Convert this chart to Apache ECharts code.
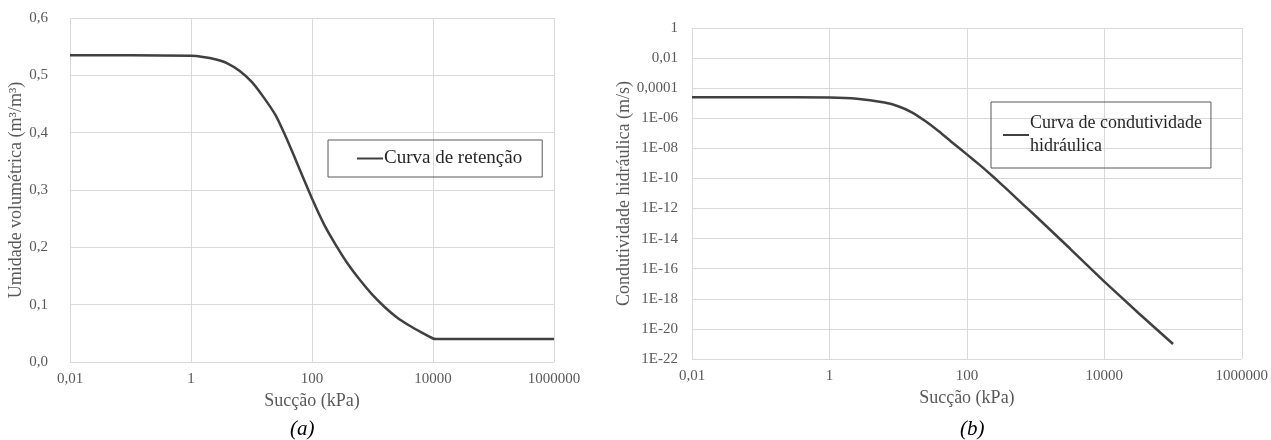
<!DOCTYPE html>
<html>
<head>
<meta charset="utf-8">
<title>Curvas de retenção e condutividade</title>
<script src="https://cdn.jsdelivr.net/npm/echarts@6/dist/echarts.min.js"></script>
<style>
  html, body { margin: 0; padding: 0; background: #fff; }
  #chart { width: 1271px; height: 440px; }
</style>
</head>
<body>
<div id="chart"></div>
<script>
// (a) curva de retenção: sucção (kPa) x umidade volumétrica (m³/m³)
const suctionA = [0.01, 0.1, 1, 1.58, 2.51, 3.98, 6.31, 10, 15.8, 25.1, 39.8, 63.1, 100,
  158, 251, 398, 631, 1000, 1585, 2512, 3981, 6310, 10000, 11220, 100000, 1000000];
const moisture = [0.535, 0.535, 0.534, 0.532, 0.528, 0.521, 0.508, 0.489, 0.462, 0.43, 0.385, 0.335, 0.285,
  0.24, 0.203, 0.17, 0.142, 0.117, 0.096, 0.078, 0.064, 0.052, 0.041, 0.04, 0.04, 0.04];

// (b) curva de condutividade hidráulica: sucção (kPa) x k (m/s)
const suctionB = [0.01, 0.1, 1, 2.51, 6.31, 10, 15.8, 25.1, 39.8, 63.1, 100, 158, 251, 398,
  631, 1000, 3162, 10000, 31623, 100000];
const conductivity = [2.5e-5, 2.5e-5, 2.4e-5, 2.0e-5, 1.1e-5, 6.3e-6, 2.5e-6, 6.3e-7, 1.26e-7, 2.2e-8,
  4.0e-9, 7.1e-10, 1.12e-10, 1.6e-11, 2.2e-12, 3.2e-13, 2.2e-15, 1.4e-17, 1.1e-19, 1.0e-21];

// rótulos dos eixos (escala log, a cada duas décadas)
const suctionTicks = ['0,01', '1', '100', '10000', '1000000'];
const conductivityTicks = ['1E-22', '1E-20', '1E-18', '1E-16', '1E-14', '1E-12',
  '1E-10', '1E-08', '1E-06', '0,0001', '0,01', '1'];

const FONT = 'Liberation Serif';
const GREY = '#595959';
const GRID = '#d9d9d9';
const LINE = '#404040';

const lg = v => Math.log10(v);
const tickLabel = (list, min) => v => list[Math.round((v - min) / 2)] || '';

const xAxisBase = {
  type: 'value',
  min: -2,
  max: 6,
  interval: 2,
  name: 'Sucção (kPa)',
  nameLocation: 'middle',
  nameGap: 27,
  nameTextStyle: { fontFamily: FONT, fontSize: 18, color: GREY },
  axisLine: { show: true, lineStyle: { color: GRID } },
  axisTick: { show: false },
  axisLabel: { fontFamily: FONT, fontSize: 15, color: GREY, margin: 10, formatter: tickLabel(suctionTicks, -2) },
  splitLine: { show: true, lineStyle: { color: GRID } }
};

const chart = echarts.init(document.getElementById('chart'));
chart.setOption({
  backgroundColor: '#fff',
  animation: false,
  textStyle: { fontFamily: FONT },
  title: [
    { text: '(a)', left: 285, top: 414, textStyle: { fontFamily: FONT, fontSize: 21, fontStyle: 'italic', fontWeight: 'normal', color: '#000' } },
    { text: '(b)', left: 955, top: 414, textStyle: { fontFamily: FONT, fontSize: 21, fontStyle: 'italic', fontWeight: 'normal', color: '#000' } }
  ],
  legend: [
    {
      data: ['Curva de retenção'],
      left: 328, top: 140,
      padding: [9, 20, 9, 29],
      borderColor: GREY, borderWidth: 1,
      itemWidth: 26, itemHeight: 2, itemGap: 0,
      icon: 'rect',
      textStyle: { fontFamily: FONT, fontSize: 19, color: '#262626', padding: [0, 0, 0, -4] }
    },
    {
      data: ['Curva de condutividade hidráulica'],
      left: 991, top: 102,
      padding: [10, 9, 10, 12],
      borderColor: GREY, borderWidth: 1,
      itemWidth: 26, itemHeight: 2, itemGap: 0,
      icon: 'rect',
      formatter: () => 'Curva de condutividade\nhidráulica',
      textStyle: { fontFamily: FONT, fontSize: 18, lineHeight: 23, color: '#262626', padding: [0, 0, 0, -4] }
    }
  ],
  grid: [
    { left: 70, right: 717, top: 18, bottom: 78 },
    { left: 692, right: 29, top: 28, bottom: 81 }
  ],
  xAxis: [
    Object.assign({ gridIndex: 0 }, xAxisBase),
    Object.assign({ gridIndex: 1 }, xAxisBase)
  ],
  yAxis: [
    {
      gridIndex: 0,
      type: 'value',
      min: 0,
      max: 0.6,
      interval: 0.1,
      name: 'Umidade volumétrica (m³/m³)',
      nameLocation: 'middle',
      nameGap: 45,
      nameTextStyle: { fontFamily: FONT, fontSize: 18, color: GREY },
      axisLine: { show: true, lineStyle: { color: GRID } },
      axisTick: { show: false },
      axisLabel: { fontFamily: FONT, fontSize: 15, color: GREY, margin: 22, formatter: v => v.toFixed(1).replace('.', ',') },
      splitLine: { show: true, lineStyle: { color: GRID } }
    },
    {
      gridIndex: 1,
      type: 'value',
      min: -22,
      max: 0,
      interval: 2,
      name: 'Condutividade hidráulica (m/s)',
      nameLocation: 'middle',
      nameGap: 42,
      nameTextStyle: { fontFamily: FONT, fontSize: 18, color: GREY },
      axisLine: { show: true, lineStyle: { color: GRID } },
      axisTick: { show: false },
      axisLabel: { fontFamily: FONT, fontSize: 15, color: GREY, margin: 14, formatter: tickLabel(conductivityTicks, -22) },
      splitLine: { show: true, lineStyle: { color: GRID } }
    }
  ],
  series: [
    {
      name: 'Curva de retenção',
      type: 'line',
      xAxisIndex: 0, yAxisIndex: 0,
      data: suctionA.map((s, i) => [lg(s), moisture[i]]),
      showSymbol: false,
      smooth: 0.15,
      color: LINE,
      lineStyle: { color: LINE, width: 2.5 }
    },
    {
      name: 'Curva de condutividade hidráulica',
      type: 'line',
      xAxisIndex: 1, yAxisIndex: 1,
      data: suctionB.map((s, i) => [lg(s), lg(conductivity[i])]),
      showSymbol: false,
      smooth: 0.15,
      color: LINE,
      lineStyle: { color: LINE, width: 2.5 }
    }
  ]
});
</script>
</body>
</html>
